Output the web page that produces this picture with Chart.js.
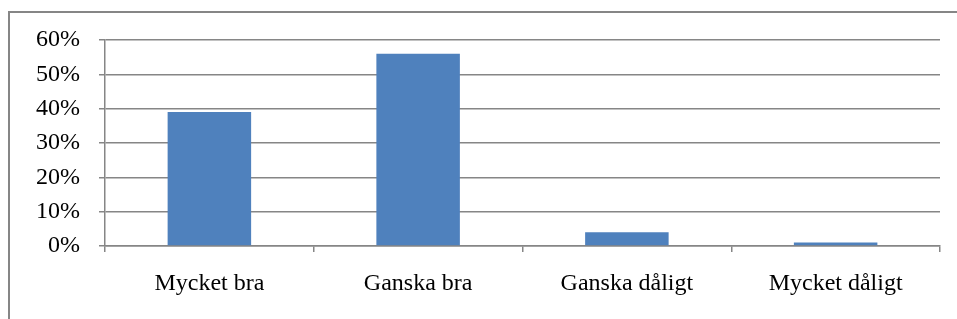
<!DOCTYPE html>
<html>
<head>
<meta charset="utf-8">
<script src="https://cdn.jsdelivr.net/npm/chart.js@4"></script>
<style>
  html, body { margin: 0; padding: 0; background: #fff; }
  #wrap { position: relative; width: 957px; height: 319px; overflow: hidden; }
  #frame {
    position: absolute; left: 8px; top: 11px; width: 960px; height: 330px;
    border: 2px solid #868686; box-sizing: border-box;
  }
  #myChart { position: absolute; left: 0; top: 0; }
</style>
</head>
<body>
<div id="wrap">
  <div id="frame"></div>
  <canvas id="myChart" width="957" height="319"></canvas>
</div>
<script>
// svarsalternativ och andel svar (%)
const categories = ["Mycket bra", "Ganska bra", "Ganska dåligt", "Mycket dåligt"];
const shares = [39, 56, 4, 1];
const yTicks = [0, 10, 20, 30, 40, 50, 60];

const gridGray = "#868686";
const font = { family: "'Liberation Serif', 'Times New Roman', serif", size: 24 };

document.addEventListener("DOMContentLoaded", () => {
  const ctx = document.getElementById("myChart");
  new Chart(ctx, {
    type: "bar",
    data: {
      labels: categories,
      datasets: [
        {
          data: shares,
          backgroundColor: "#4f81bd",
          barPercentage: 0.4,
          categoryPercentage: 1,
        },
      ],
    },
    options: {
      responsive: false,
      animation: false,
      layout: { padding: { top: 40, right: 17, left: 0, bottom: 0 } },
      plugins: { legend: { display: false }, tooltip: { enabled: false } },
      scales: {
        x: {
          afterFit: (scale) => { scale.height = 73; },
          grid: {
            offset: true,
            drawOnChartArea: false,
            drawTicks: true,
            tickLength: 6,
            color: gridGray,
            lineWidth: 1.5,
          },
          border: { display: true, color: gridGray, width: 1.5 },
          ticks: { color: "#000", font: font, padding: 17, maxRotation: 0 },
        },
        y: {
          min: 0,
          max: 60,
          afterFit: (scale) => { scale.width = 105; },
          afterBuildTicks: (scale) => {
            scale.ticks = yTicks.map((v) => ({ value: v }));
          },
          grid: { color: gridGray, lineWidth: 1.5, tickLength: 6 },
          border: { display: true, color: gridGray, width: 1.5 },
          ticks: {
            color: "#000",
            font: font,
            padding: 19,
            callback: (v) => v + "%",
          },
        },
      },
    },
  });
});
</script>
</body>
</html>
